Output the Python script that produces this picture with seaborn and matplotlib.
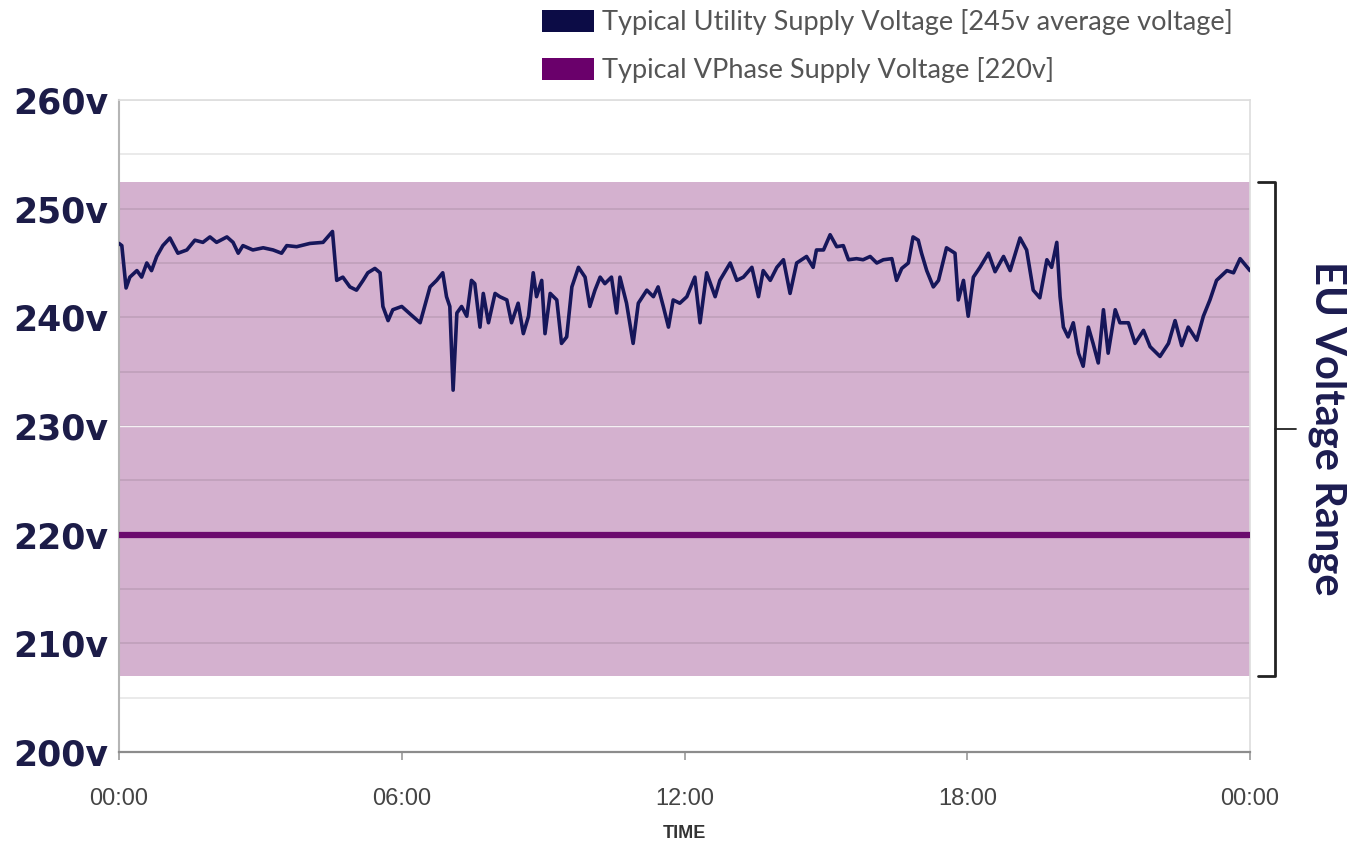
import matplotlib
matplotlib.use('Agg')
import matplotlib.pyplot as plt
from matplotlib.patches import Patch
from matplotlib.ticker import MultipleLocator
import seaborn as sns

# time of day in hours
hours = [0.00, 0.06, 0.15, 0.23, 0.38, 0.48, 0.59, 0.69, 0.80, 0.93, 1.08, 1.25, 1.44, 1.61,
         1.78, 1.93, 2.07, 2.29, 2.42, 2.53, 2.63, 2.84, 3.06, 3.27, 3.45, 3.56, 3.77, 4.05,
         4.33, 4.53, 4.62, 4.75, 4.90, 5.04, 5.18, 5.28, 5.43, 5.54, 5.60, 5.71, 5.81, 6.00,
         6.18, 6.39, 6.60, 6.74, 6.87, 6.95, 7.02, 7.09, 7.17, 7.27, 7.38, 7.48, 7.55, 7.66,
         7.73, 7.84, 7.98, 8.08, 8.23, 8.33, 8.47, 8.58, 8.69, 8.79, 8.86, 8.97, 9.04, 9.15,
         9.29, 9.39, 9.50, 9.61, 9.75, 9.89, 9.99, 10.10, 10.21, 10.31, 10.45, 10.56, 10.63,
         10.77, 10.91, 11.02, 11.20, 11.34, 11.44, 11.55, 11.66, 11.76, 11.90, 12.05, 12.22,
         12.33, 12.47, 12.65, 12.75, 12.97, 13.11, 13.25, 13.43, 13.57, 13.67, 13.82, 13.96,
         14.10, 14.24, 14.38, 14.59, 14.73, 14.80, 14.95, 15.09, 15.23, 15.37, 15.48, 15.65,
         15.79, 15.94, 16.08, 16.22, 16.40, 16.50, 16.61, 16.75, 16.85, 16.96, 17.03, 17.14,
         17.28, 17.39, 17.56, 17.74, 17.81, 17.92, 18.02, 18.13, 18.27, 18.45, 18.59, 18.77,
         18.91, 19.12, 19.26, 19.40, 19.54, 19.69, 19.79, 19.90, 19.97, 20.04, 20.14, 20.25,
         20.36, 20.46, 20.57, 20.67, 20.78, 20.89, 20.99, 21.14, 21.24, 21.42, 21.56, 21.74,
         21.88, 22.09, 22.27, 22.41, 22.55, 22.69, 22.87, 23.01, 23.15, 23.29, 23.51, 23.65,
         23.79, 24.00]
volts = [246.8, 246.6, 242.7, 243.7, 244.3, 243.7, 245.0, 244.3, 245.6, 246.6, 247.3, 245.9,
         246.2, 247.1, 246.9, 247.4, 246.9, 247.4, 246.9, 245.9, 246.6, 246.2, 246.4, 246.2,
         245.9, 246.6, 246.5, 246.8, 246.9, 247.9, 243.4, 243.7, 242.8, 242.5, 243.4, 244.1,
         244.5, 244.1, 241.0, 239.7, 240.7, 241.0, 240.3, 239.5, 242.8, 243.4, 244.1, 241.9,
         241.0, 233.3, 240.4, 241.0, 240.1, 243.4, 243.1, 239.1, 242.2, 239.5, 242.2, 241.9,
         241.6, 239.5, 241.3, 238.5, 240.1, 244.1, 241.9, 243.4, 238.5, 242.2, 241.6, 237.6,
         238.2, 242.8, 244.6, 243.7, 241.0, 242.5, 243.7, 243.1, 243.7, 240.4, 243.7, 241.3,
         237.6, 241.3, 242.5, 241.9, 242.8, 241.0, 239.1, 241.6, 241.3, 241.9, 243.7, 239.5,
         244.1, 241.9, 243.4, 245.0, 243.4, 243.7, 244.6, 241.9, 244.3, 243.4, 244.6, 245.3,
         242.2, 245.0, 245.6, 244.6, 246.2, 246.2, 247.6, 246.5, 246.6, 245.3, 245.4, 245.3,
         245.6, 245.0, 245.3, 245.4, 243.4, 244.5, 245.0, 247.4, 247.1, 245.9, 244.3, 242.8,
         243.4, 246.4, 245.9, 241.6, 243.4, 240.1, 243.7, 244.6, 245.9, 244.2, 245.6, 244.3,
         247.3, 246.2, 242.5, 241.8, 245.3, 244.6, 246.9, 241.9, 239.1, 238.2, 239.5, 236.7,
         235.5, 239.1, 237.6, 235.8, 240.7, 236.7, 240.7, 239.5, 239.5, 237.6, 238.8, 237.3,
         236.4, 237.6, 239.7, 237.4, 239.1, 237.9, 240.1, 241.6, 243.4, 244.3, 244.1, 245.4,
         244.3]

vphase_level = 220
eu_low = 207
eu_high = 252.5
eu_nominal = 230

y_ticks = [200, 210, 220, 230, 240, 250, 260]
y_labels = ['200v', '210v', '220v', '230v', '240v', '250v', '260v']
x_ticks = [0, 6, 12, 18, 24]
x_labels = ['00:00', '06:00', '12:00', '18:00', '00:00']
legend_labels = ['Typical Utility Supply Voltage [245v average voltage]',
                 'Typical VPhase Supply Voltage [220v]']

navy = '#16165a'
purple = '#6b0b6e'
band = '#d4b1cf'

sns.set_theme(style='white')
plt.rcParams['font.family'] = ['DejaVu Sans']

fig = plt.figure(figsize=(13.55, 8.49), dpi=100)
ax = fig.add_axes([119 / 1355, 1 - 752 / 849, 1131 / 1355, 652 / 849])

# EU voltage band and grid
ax.axhspan(eu_low, eu_high, color=band, lw=0, zorder=0.2)
ax.set_axisbelow(True)
ax.yaxis.set_minor_locator(MultipleLocator(5))
ax.grid(axis='y', which='both', color='black', alpha=0.09, lw=1.3)
ax.axhline(eu_nominal, color='white', alpha=0.85, lw=1, zorder=0.6)

# supply lines
ax.axhline(vphase_level, color=purple, lw=4.5, zorder=3)
sns.lineplot(x=hours, y=volts, color=navy, lw=2.6, ax=ax, zorder=4)

ax.set_xlim(0, 24)
ax.set_ylim(200, 260)
ax.set_yticks(y_ticks)
ax.set_yticklabels(y_labels, fontsize=25, fontweight='bold', color='#1c1c48')
ax.set_xticks(x_ticks)
ax.set_xticklabels(x_labels, fontsize=17, color='#444444',
                   family=['Liberation Sans Narrow', 'Liberation Sans'])
ax.tick_params(axis='y', which='both', length=0, pad=8)
ax.tick_params(axis='x', length=6, width=1.2, color='#999999', pad=20, bottom=True)
ax.set_xlabel('TIME', fontsize=13, fontweight='bold', color='#333333', labelpad=11,
              family=['Liberation Sans Narrow', 'Liberation Sans'])
ax.set_ylabel('')

for side in ['top', 'right']:
    ax.spines[side].set_color('#dddddd')
    ax.spines[side].set_linewidth(1.2)
ax.spines['left'].set_color('#b5b5b5')
ax.spines['left'].set_linewidth(1.5)
ax.spines['bottom'].set_color('#8c8c8c')
ax.spines['bottom'].set_linewidth(1.6)

# bracket for EU range
tr = ax.get_yaxis_transform()
eu_mid = (eu_low + eu_high) / 2
ax.plot([1.007, 1.022, 1.022, 1.007], [eu_high, eu_high, eu_low, eu_low],
        color='#222222', lw=2, transform=tr, clip_on=False)
ax.plot([1.022, 1.041], [eu_mid, eu_mid], color='#222222', lw=1.3, transform=tr, clip_on=False)
ax.text(1.068, eu_mid, 'EU Voltage Range', rotation=-90, ha='center', va='center',
        fontsize=30, fontweight='bold', color='#1c1c50', family='Lato', transform=tr)

handles = [Patch(facecolor='#0c0c46', edgecolor='none'), Patch(facecolor='#6a006b', edgecolor='none')]
fig.legend(handles, legend_labels, loc='upper left', bbox_to_anchor=(533 / 1355, 1.0),
           frameon=False, prop={'family': 'Lato', 'size': 19.5}, labelcolor='#555555',
           handlelength=1.9, handleheight=0.9, handletextpad=0.3, labelspacing=0.8,
           borderpad=0.25, borderaxespad=0.1)

fig.savefig('out.png', dpi=100, facecolor='white')
